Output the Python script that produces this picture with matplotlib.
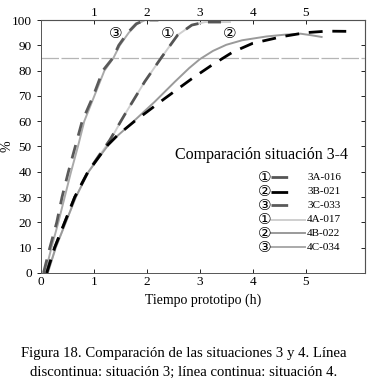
import matplotlib
matplotlib.use('Agg')
import matplotlib.pyplot as plt

plt.rcParams['font.family'] = ['Liberation Serif', 'DejaVu Serif']

# situacion 3 (linea discontinua)
x3a = [0.11, 0.26, 0.45, 0.64, 0.89, 1.1, 1.3, 1.58, 1.96, 2.28, 2.58, 2.85, 3.1, 3.4]
y3a = [0, 10, 20, 30, 40, 46.5, 52.5, 62.5, 75.6, 85.3, 94, 98, 99.2, 99.2]
x3b = [0.11, 0.26, 0.45, 0.64, 0.89, 1.1, 1.26, 1.45, 1.77, 2.34, 2.85, 3.23, 3.62, 4.0, 4.57, 5.0, 5.4, 5.9]
y3b = [0, 10, 20, 30, 40, 46, 50.5, 54.5, 60, 69, 76.8, 82.2, 87.3, 90.8, 93.5, 95, 95.6, 95.5]
x3c = [0.05, 0.17, 0.3, 0.4, 0.52, 0.65, 0.78, 0.99, 1.17, 1.36, 1.47, 1.64, 1.8, 1.97, 2.22]
y3c = [0, 10, 20, 30, 40, 50, 60, 70, 80, 85, 90, 95, 98.5, 100, 100]

# situacion 4 (linea continua)
x4a = [0.13, 0.28, 0.47, 0.66, 0.9, 1.11, 1.31, 1.58, 1.96, 2.28, 2.58, 2.85, 3.1, 3.57]
y4a = [0, 10, 20, 30, 40, 46.5, 52.5, 62.5, 75.6, 85.3, 94, 98, 99.2, 99.2]
x4b = [0.13, 0.28, 0.47, 0.66, 0.9, 1.11, 1.27, 1.45, 1.64, 2.15, 2.53, 2.8, 3.0, 3.25, 3.5, 3.8, 4.26, 4.6, 4.9, 5.1, 5.3]
y4b = [0, 10, 20, 30, 40, 46, 50.5, 54.3, 57.8, 67.7, 75.6, 81, 84.5, 87.8, 90.2, 92, 93.5, 94.2, 94.6, 94, 93.3]
x4c = [0.08, 0.2, 0.33, 0.45, 0.57, 0.7, 0.82, 1.01, 1.2, 1.37, 1.49, 1.66, 1.82, 1.97]
y4c = [0, 10, 20, 30, 40, 50, 60, 70, 80, 85, 90, 95, 98.5, 100]

nombres = ['3A-016', '3B-021', '3C-033', '4A-017', '4B-022', '4C-034']
numeros = ['①', '②', '③', '①', '②', '③']
colores = ['#555555', '#000000', '#5a5a5a', '#cfcfcf', '#9a9a9a', '#aaaaaa']
curvas = [(x3a, y3a), (x3b, y3b), (x3c, y3c), (x4a, y4a), (x4b, y4b), (x4c, y4c)]

# etiquetas sobre las curvas
etiq_txt = ['③', '①', '②']
etiq_x = [1.41, 2.4, 3.57]
etiq_y = [94.8, 94.8, 94.8]

fig = plt.figure(figsize=(3.68, 3.85), dpi=100)
ax = fig.add_axes([0.111, 0.291, 0.881, 0.657])

for i in range(6):
    x, y = curvas[i]
    if i < 3:
        ax.plot(x, y, color=colores[i], lw=2.0, dashes=(5, 3.5), zorder=3)
    else:
        ax.plot(x, y, color=colores[i], lw=1.4, zorder=2)

ax.axhline(85, color='#b5b5b5', lw=0.9, dashes=(14, 2), zorder=1)

for t, xx, yy in zip(etiq_txt, etiq_x, etiq_y):
    ax.text(xx, yy, t, family=['DejaVu Sans'], fontsize=11, ha='center', va='center')

ax.set_xlim(0, 6.12)
ax.set_ylim(0, 100)
ax.set_xticks([0, 1, 2, 3, 4, 5])
ax.set_yticks(range(0, 101, 10))
ax.tick_params(axis='both', labelsize=9.5, length=3, width=0.6)
ax.tick_params(axis='y', direction='out')
ax.tick_params(axis='x', direction='in', pad=2)
for s in ax.spines.values():
    s.set_linewidth(0.7)
    s.set_color('#555555')

arriba = ax.secondary_xaxis('top')
arriba.set_xticks([1, 2, 3, 4, 5])
arriba.tick_params(labelsize=9.5, length=3, width=0.6, direction='in', pad=1)
derecha = ax.secondary_yaxis('right')
derecha.set_yticks(range(0, 101, 10))
derecha.tick_params(length=3, width=0.6, direction='in', labelright=False)

ax.set_xlabel('Tiempo prototipo (h)', fontsize=10, labelpad=4)
ax.set_ylabel('%', fontsize=10)
ax.yaxis.set_label_coords(-0.084, 0.5)

# leyenda hecha a mano
ax.text(0.948, 0.466, 'Comparación situación 3-4', transform=ax.transAxes,
        fontsize=11.5, ha='right', va='center')
fila_y = [0.379, 0.322, 0.267, 0.211, 0.157, 0.102]
for i in range(6):
    yy = fila_y[i]
    ax.text(0.691, yy, numeros[i], transform=ax.transAxes, family=['DejaVu Sans'],
            fontsize=11, ha='center', va='center')
    if i < 3:
        ax.plot([0.71, 0.815], [yy, yy], transform=ax.transAxes, color=colores[i],
                lw=2.0, dashes=(6, 10))
    else:
        ax.plot([0.71, 0.815], [yy, yy], transform=ax.transAxes, color=colores[i], lw=1.4)
    ax.text(0.821, yy, nombres[i], transform=ax.transAxes, fontsize=8, ha='left', va='center')

fig.text(0.5, 0.058, 'Figura 18. Comparación de las situaciones 3 y 4. Línea\n'
         'discontinua: situación 3; línea continua: situación 4.',
         ha='center', va='center', fontsize=10.6, linespacing=1.6)

fig.savefig('out.png', dpi=100)
